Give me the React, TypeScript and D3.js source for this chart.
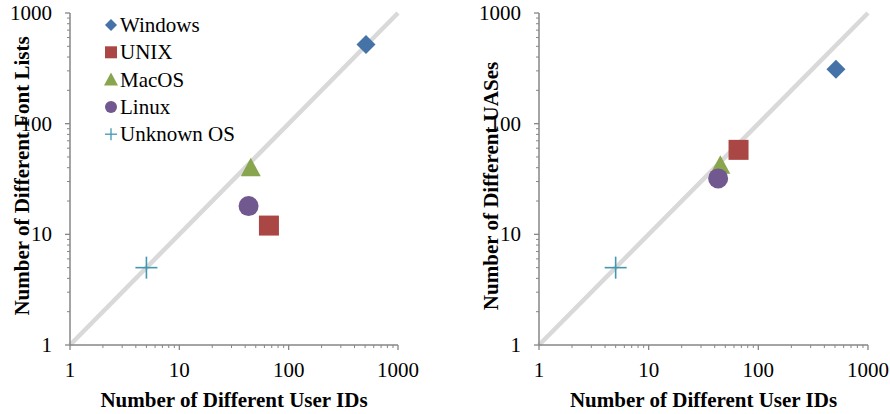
import React from 'react'
import { scaleLog } from 'd3'

const WIDTH = 890
const HEIGHT = 414

const SERIES = ['Windows', 'UNIX', 'MacOS', 'Linux', 'Unknown OS']
const COLORS = ['#4572A7', '#AA4643', '#89A54E', '#71588F', '#4198AF']
const USER_IDS = [510, 66, 45, 43, 5]
const FONT_LISTS = [520, 12, 40, 18, 5]
const UASES = [310, 58, 42, 32, 5]
const TICKS = [1, 10, 100, 1000]

const FONT = '"Liberation Serif", "Times New Roman", serif'

// s = half size of the marker
const markerPath = (i: number, s: number) => {
  if (i === 0) return `M0,${-s}L${s},0L0,${s}L${-s},0Z`
  if (i === 1) return `M${-s},${-s}H${s}V${s}H${-s}Z`
  if (i === 2) return `M0,${-s}L${s},${s * 0.85}L${-s},${s * 0.85}Z`
  return ''
}

const Marker = ({ i, x, y, big }: { i: number; x: number; y: number; big: boolean }) => {
  if (i === 4) {
    const a = big ? 11 : 6
    return (
      <g transform={`translate(${x}, ${y})`} stroke={COLORS[i]} strokeWidth={big ? 1.6 : 1.3}>
        <line x1={-a} x2={a} y1={0} y2={0} />
        <line x1={0} x2={0} y1={-a} y2={a} />
      </g>
    )
  }
  if (i === 3) return <circle cx={x} cy={y} r={big ? 10 : 6} fill={COLORS[i]} />
  const s = big ? [9.5, 10, 10][i] : [6, 6, 7][i]
  return <path d={markerPath(i, s)} transform={`translate(${x}, ${y})`} fill={COLORS[i]} />
}

const Panel = ({ left, right, top, bottom, yValues, yTitle, titleX, titleY }: any) => {
  const x = scaleLog().domain([1, 1000]).range([left, right])
  const y = scaleLog().domain([1, 1000]).range([bottom, top])
  const minor: number[] = []
  for (let d = 1; d < 1000; d *= 10) for (let m = 2; m < 10; m++) minor.push(d * m)

  return (
    <g>
      <line x1={x(1)} y1={y(1)} x2={x(1000)} y2={y(1000)} stroke="#d9d9d9" strokeWidth={4.5} />

      {/* y axis */}
      <line x1={left} x2={left} y1={top} y2={bottom} stroke="#868686" strokeWidth={1.5} />
      {TICKS.map(t => (
        <g key={t}>
          <line x1={left - 5} x2={left} y1={y(t)} y2={y(t)} stroke="#868686" strokeWidth={1.3} />
          <text x={left - 18} y={y(t) + 7} textAnchor="end" fontSize={21} fontFamily={FONT}>{t}</text>
        </g>
      ))}
      {minor.map(t => (
        <line key={t} x1={left - 3} x2={left} y1={y(t)} y2={y(t)} stroke="#868686" strokeWidth={1} />
      ))}

      {/* x axis */}
      <line x1={left} x2={right} y1={bottom} y2={bottom} stroke="#868686" strokeWidth={1.5} />
      {TICKS.map(t => (
        <g key={t}>
          <line x1={x(t)} x2={x(t)} y1={bottom} y2={bottom + 5} stroke="#868686" strokeWidth={1.3} />
          <text x={x(t)} y={bottom + 32} textAnchor="middle" fontSize={21} fontFamily={FONT}>{t}</text>
        </g>
      ))}
      {minor.map(t => (
        <line key={t} x1={x(t)} x2={x(t)} y1={bottom} y2={bottom + 3} stroke="#868686" strokeWidth={1} />
      ))}

      <text x={(left + right) / 2} y={407} textAnchor="middle" fontSize={21} fontWeight="bold" fontFamily={FONT}>
        Number of Different User IDs
      </text>
      <text transform={`translate(${titleX}, ${titleY}) rotate(-90)`} textAnchor="middle"
        fontSize={21} fontWeight="bold" fontFamily={FONT}>
        {yTitle}
      </text>

      {SERIES.map((s, i) => (
        <Marker key={s} i={i} x={x(USER_IDS[i])} y={y(yValues[i])} big />
      ))}
    </g>
  )
}

const Legend = () => (
  <g>
    {SERIES.map((s, i) => (
      <g key={s} transform={`translate(111, ${25 + i * 27.3})`}>
        <Marker i={i} x={0} y={0} big={false} />
        <text x={9} y={7} fontSize={21} fontFamily={FONT}>{s}</text>
      </g>
    ))}
  </g>
)

const App = () => {
  return (
    <svg width={WIDTH} height={HEIGHT} style={{ position: 'absolute', left: 0, top: 0, background: 'white' }}>
      <Panel left={70} right={398} top={13} bottom={345} yValues={FONT_LISTS}
        yTitle="Number of Different Font Lists" titleX={29} titleY={176} />
      <Panel left={539} right={868} top={13} bottom={345} yValues={UASES}
        yTitle="Number of Different UASes" titleX={498} titleY={186} />
      <Legend />
    </svg>
  )
}

export default App
